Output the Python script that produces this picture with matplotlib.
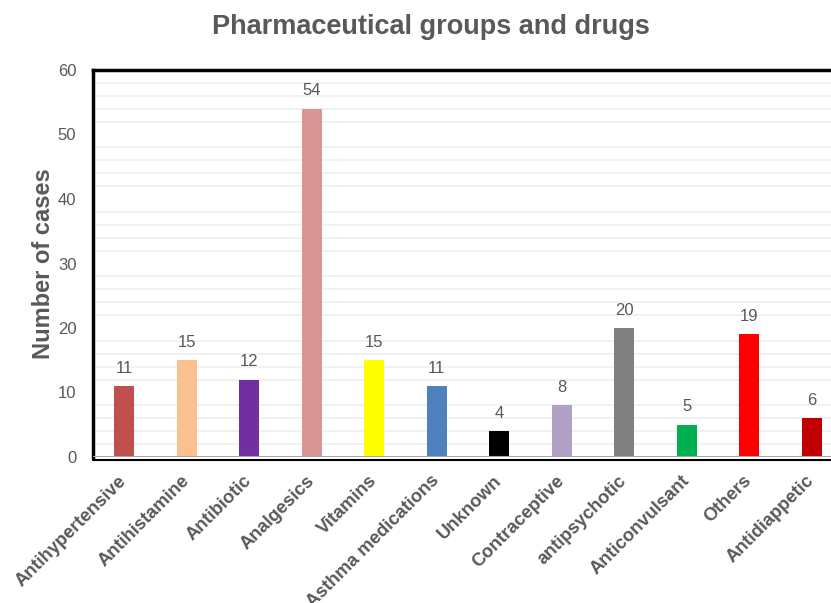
import matplotlib
matplotlib.use("Agg")
import matplotlib.pyplot as plt
import numpy as np

categories = ["Antihypertensive", "Antihistamine", "Antibiotic", "Analgesics", "Vitamins",
              "Asthma medications", "Unknown", "Contraceptive", "antipsychotic",
              "Anticonvulsant", "Others", "Antidiappetic"]
values = [11, 15, 12, 54, 15, 11, 4, 8, 20, 5, 19, 6]
colors = ["#C0504D", "#FAC090", "#7030A0", "#D99594", "#FFFF00", "#4F81BD",
          "#000000", "#B2A1C7", "#808080", "#00B050", "#FF0000", "#C00000"]
yticks = [0, 10, 20, 30, 40, 50, 60]

plt.rcParams['font.family'] = ['Liberation Sans', 'DejaVu Sans']
gray = "#595959"

fig = plt.figure(figsize=(8.31, 6.03), dpi=100)
ax = fig.add_axes([93/831, 1 - 457/603, 750/831, (457-70)/603])

for s in ["top", "left"]:
    ax.spines[s].set_linewidth(2.5)
    ax.spines[s].set_color("black")
ax.spines["bottom"].set_linewidth(1.5)
ax.spines["bottom"].set_color("black")
ax.spines["bottom"].set_position(("outward", 2))
ax.spines["right"].set_visible(False)

x = np.arange(len(categories))
ax.bar(x, values, width=0.32, color=colors, zorder=3)
for xi, v in zip(x, values):
    ax.text(xi, v + 1.6, str(v), ha="center", va="bottom", fontsize=12, color=gray)

ax.tick_params(axis="both", length=0)
ax.tick_params(axis="x", pad=9)
ax.tick_params(axis="y", pad=12)

ax.set_xlim(-0.5, len(categories) - 0.5)
ax.set_ylim(0, 60)
ax.set_yticks(yticks)
ax.set_yticklabels([str(t) for t in yticks], fontsize=12, color=gray)
for g in range(2, 60, 2):
    if g % 10 != 0:
        ax.axhline(g, color="#EFEFEF", lw=1.2, zorder=1)
ax.axhline(0, color="#A6A6A6", lw=1.5, zorder=4)

ax.set_xticks(x)
labels = ax.set_xticklabels(categories, rotation=45, ha="right", rotation_mode="anchor",
                            fontsize=13.2, fontweight="bold", color=gray)
import matplotlib.transforms as mtransforms
offset = mtransforms.ScaledTranslation(-6/100, 0, fig.dpi_scale_trans)
for lab in labels:
    lab.set_transform(lab.get_transform() + offset)

ax.set_ylabel("Number of cases", fontsize=17, fontweight="bold", color=gray, labelpad=2)
fig.text(431/831, 1 - 27/603, "Pharmaceutical groups and drugs", ha="center", va="center",
         fontsize=19.5, fontweight="bold", color=gray)

fig.savefig("out.png", dpi=100)
